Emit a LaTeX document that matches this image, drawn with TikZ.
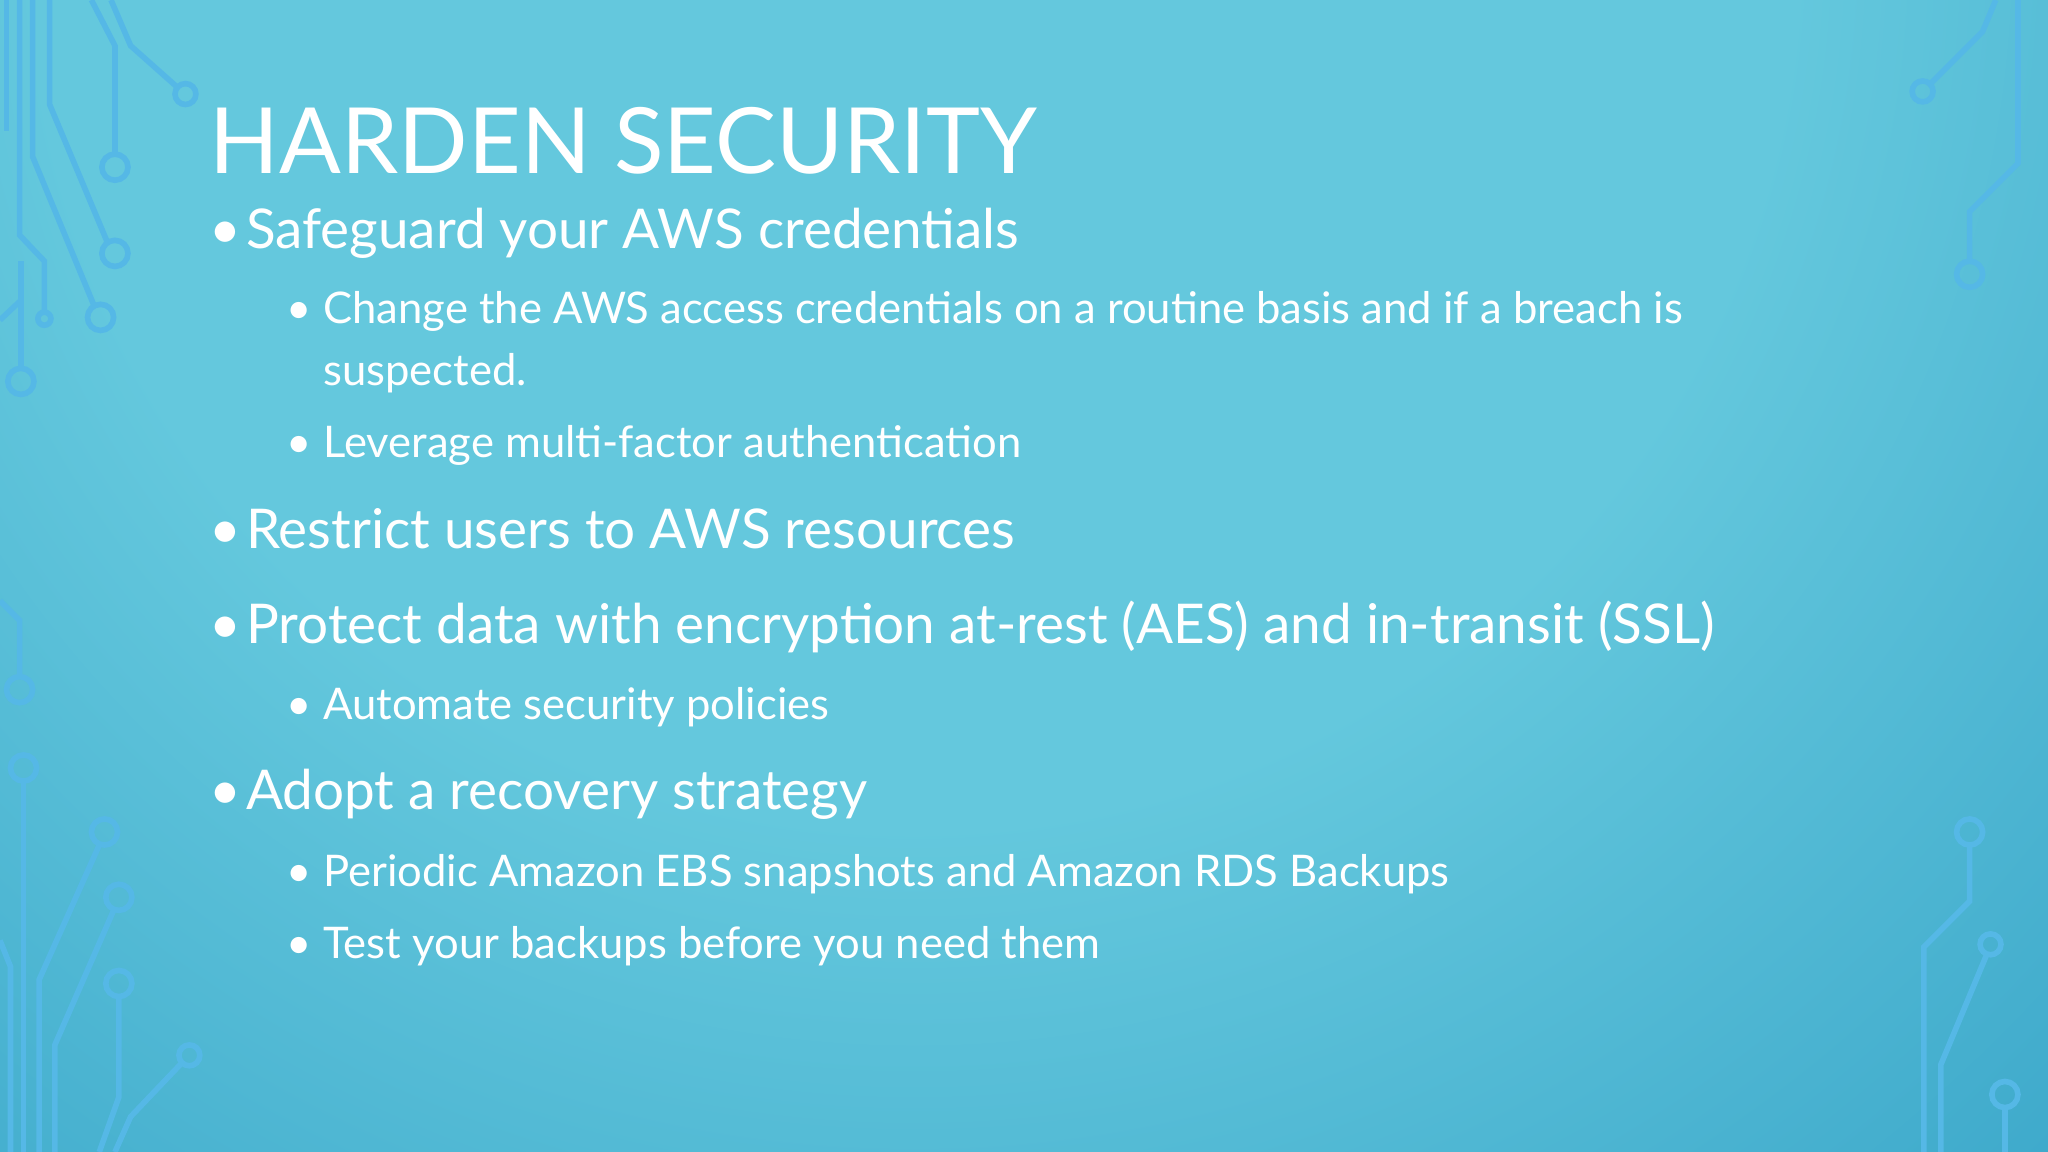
\documentclass[tikz,border=0pt]{standalone}
\usepackage{fontspec}
\setmainfont{Lato}
\definecolor{bgA}{HTML}{64C8DD}
\definecolor{bgB}{HTML}{3AA6C9}
\definecolor{bgC}{HTML}{1A6598}
\definecolor{bgD}{HTML}{0A1A48}
\definecolor{circ}{HTML}{55B8E6}
\pgfdeclareradialshading{bgrad}{\pgfpoint{0bp}{0bp}}{%
 color(0bp)=(bgA); color(12bp)=(bgA); color(24bp)=(bgB); color(33bp)=(bgC); color(42bp)=(bgD); color(50bp)=(bgD)}
\tikzset{
 cl/.style={draw=circ, line width=1.6pt},
 cc/.style={draw=circ, line width=1.6pt},
 ttl/.style={anchor=base west, text=white, font=\fontsize{26}{30}\selectfont, inner sep=0pt},
 la/.style={anchor=base west, text=white, font=\fontsize{15.6}{19}\selectfont, inner sep=0pt},
 lb/.style={anchor=base west, text=white, font=\fontsize{12.4}{15}\selectfont, inner sep=0pt},
}
\begin{document}
\begin{tikzpicture}[x=0.01306cm,y=-0.01306cm]
\useasboundingbox (0,0) rectangle (1568,882);
\begin{scope}
\clip (0,0) rectangle (1568,882);
\shade[shading=bgrad] (700,-40) circle (1400);
\draw[cl] (85,0)--(100,35)--(136,67); \draw[cc] (142,72) circle (8);
\draw[cl] (70,0)--(88,35)--(88,118); \draw[cc] (88,128) circle (10);
\draw[cl] (38,0)--(38,80)--(82,185); \draw[cc] (88,194) circle (10);
\draw[cl] (25,0)--(25,120)--(72,234); \draw[cc] (77,243) circle (10);
\draw[cl] (15,0)--(15,180)--(34,200)--(34,239); \draw[cc] (34,244) circle (5);
\draw[cl] (5,0)--(5,100); \draw[cl] (16,200)--(16,282); \draw[cc] (16,292) circle (10);
\draw[cl] (0,245)--(16,230);
\draw[cl] (0,460)--(15,475)--(15,518); \draw[cc] (15,528) circle (10);
\draw[cc] (18,588) circle (10); \draw[cl] (18,598)--(18,882);
\draw[cc] (80,637) circle (10); \draw[cl] (76,647)--(30,750)--(30,882);
\draw[cc] (91,687) circle (10); \draw[cl] (87,697)--(42,800)--(42,882);
\draw[cc] (91,753) circle (10); \draw[cl] (91,763)--(91,840)--(76,882);
\draw[cc] (145,808) circle (8); \draw[cl] (139,814)--(100,855)--(88,882);
\draw[cl] (0,720)--(8,740)--(8,882);
\draw[cc] (1472,70) circle (8); \draw[cl] (1478,64)--(1518,24)--(1528,0);
\draw[cl] (1545,0)--(1545,125)--(1508,162)--(1508,200); \draw[cc] (1508,210) circle (10);
\draw[cc] (1508,637) circle (10); \draw[cl] (1508,647)--(1508,690)--(1473,725)--(1473,882);
\draw[cc] (1524,723) circle (8); \draw[cl] (1521,731)--(1486,815)--(1486,882);
\draw[cc] (1535,838) circle (10); \draw[cl] (1535,848)--(1535,882);
\end{scope}
\node[ttl] (t) at (160,133) {HARDEN SECURITY};
\foreach \y/\s [count=\i] in {190/Safeguard your AWS credentials,420/Restrict users to AWS resources,493/Protect data with encryption at-rest (AES) and in-transit (SSL),620/Adopt a recovery strategy}{
 \node[la] (a\i) at (188,\y) {\s};
 \node[la] (ab\i) at (160,\y) {•};
}
\foreach \y/\s [count=\i] in {248/Change the AWS access credentials on a routine basis and if a breach is,350/Leverage multi-factor authentication,551/Automate security policies,679/Periodic Amazon EBS snapshots and Amazon RDS Backups,734/Test your backups before you need them}{
 \node[lb] (b\i) at (247,\y) {\s};
 \node[lb] (bb\i) at (219,\y) {•};
}
\node[lb] (b0) at (247,295) {suspected.};
\end{tikzpicture}
\end{document}
